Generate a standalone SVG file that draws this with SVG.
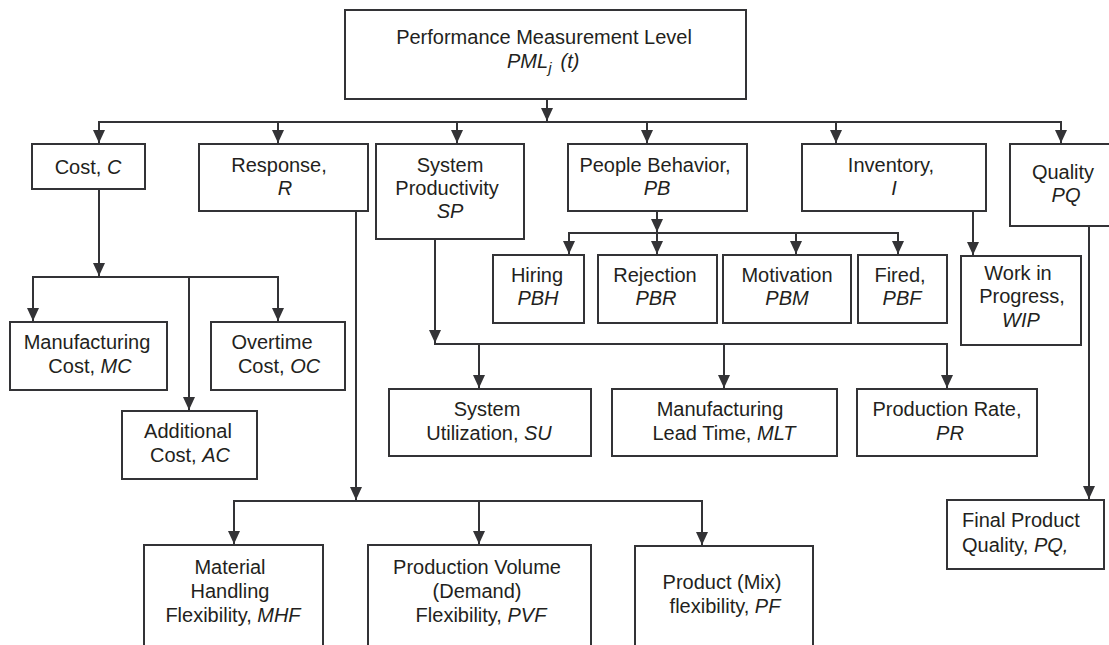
<svg xmlns="http://www.w3.org/2000/svg" width="1109" height="645" viewBox="0 0 1109 645">
  <style>
    .box { fill: #ffffff; stroke: #333336; stroke-width: 2; }
    .t { font-family: "Liberation Sans", Arial, Helvetica, sans-serif; font-size: 20px; fill: #231f20; text-anchor: middle; }
    .ts { font-family: "Liberation Sans", Arial, Helvetica, sans-serif; font-size: 20px; fill: #231f20; text-anchor: start; }
    .i { font-style: italic; }
    .wire { fill: none; stroke: #333336; stroke-width: 2; marker-end: url(#ah); }
    .bus { fill: none; stroke: #333336; stroke-width: 2; stroke-linecap: square; }
  </style>
  <defs>
    <marker id="ah" markerUnits="userSpaceOnUse" markerWidth="13" markerHeight="12" viewBox="0 0 13 12" refX="13" refY="6" orient="auto">
      <path d="M0,0 L13,6 L0,12 z" fill="#333336"/>
    </marker>
  </defs>

  <rect width="1109" height="645" fill="#ffffff"/>

  <!-- connectors -->
  <g id="connectors">
    <!-- root to first level -->
    <path class="wire" d="M547,99 V121"/>
    <path class="bus" d="M99,122 H1061"/>
    <path class="wire" d="M99,122 V143"/>
    <path class="wire" d="M278,122 V143"/>
    <path class="wire" d="M457,122 V143"/>
    <path class="wire" d="M647,122 V143"/>
    <path class="wire" d="M836,122 V143"/>
    <path class="wire" d="M1061,122 V143"/>

    <!-- cost branch -->
    <path class="wire" d="M99,189 V276"/>
    <path class="bus" d="M33,277 H278"/>
    <path class="wire" d="M33,277 V321"/>
    <path class="wire" d="M278,277 V321"/>
    <path class="wire" d="M189,277 V410"/>

    <!-- response branch -->
    <path class="wire" d="M356,211 V500"/>
    <path class="bus" d="M234,501 H702"/>
    <path class="wire" d="M234,501 V544"/>
    <path class="wire" d="M479,501 V544"/>
    <path class="wire" d="M702,501 V545"/>

    <!-- system productivity branch -->
    <path class="wire" d="M435,239 V343"/>
    <path class="bus" d="M435,344 H947"/>
    <path class="wire" d="M479,344 V388"/>
    <path class="wire" d="M724,344 V388"/>
    <path class="wire" d="M947,344 V388"/>

    <!-- people behavior branch -->
    <path class="wire" d="M657,211 V232"/>
    <path class="bus" d="M569,233 H898"/>
    <path class="wire" d="M569,233 V254"/>
    <path class="wire" d="M657,233 V254"/>
    <path class="wire" d="M796,233 V254"/>
    <path class="wire" d="M898,233 V254"/>

    <!-- inventory and quality -->
    <path class="wire" d="M973,211 V255"/>
    <path class="wire" d="M1089,226 V499"/>
  </g>

  <!-- root -->
  <g id="pml">
    <rect class="box" x="345" y="10" width="401" height="89"/>
    <text class="t" x="544" y="44">Performance Measurement Level</text>
    <text class="ts i" x="507" y="68">PML<tspan font-size="15" dy="5">j</tspan><tspan dx="9" dy="-5">(t)</tspan></text>
  </g>

  <!-- first level -->
  <g id="cost">
    <rect class="box" x="32" y="144" width="113" height="45"/>
    <text class="t" x="88" y="174">Cost, <tspan class="i">C</tspan></text>
  </g>
  <g id="response">
    <rect class="box" x="199" y="144" width="169" height="67"/>
    <text class="t" x="279" y="172">Response,</text>
    <text class="t i" x="285" y="195">R</text>
  </g>
  <g id="system-productivity">
    <rect class="box" x="376" y="144" width="148" height="95"/>
    <text class="t" x="450" y="172">System</text>
    <text class="t" x="447" y="195">Productivity</text>
    <text class="t i" x="450" y="218">SP</text>
  </g>
  <g id="people-behavior">
    <rect class="box" x="568" y="144" width="179" height="67"/>
    <text class="t" x="655" y="172">People Behavior,</text>
    <text class="t i" x="657" y="195">PB</text>
  </g>
  <g id="inventory">
    <rect class="box" x="802" y="144" width="184" height="67"/>
    <text class="t" x="891" y="172">Inventory,</text>
    <text class="t i" x="894" y="195">I</text>
  </g>
  <g id="quality">
    <rect class="box" x="1010" y="144" width="106" height="82"/>
    <text class="t" x="1063" y="179">Quality</text>
    <text class="t i" x="1066" y="202">PQ</text>
  </g>

  <!-- people behavior children -->
  <g id="hiring">
    <rect class="box" x="493" y="255" width="91" height="68"/>
    <text class="t" x="537" y="282">Hiring</text>
    <text class="t i" x="538" y="305">PBH</text>
  </g>
  <g id="rejection">
    <rect class="box" x="598" y="255" width="119" height="68"/>
    <text class="t" x="655" y="282">Rejection</text>
    <text class="t i" x="656" y="305">PBR</text>
  </g>
  <g id="motivation">
    <rect class="box" x="723" y="255" width="128" height="68"/>
    <text class="t" x="787" y="282">Motivation</text>
    <text class="t i" x="787" y="305">PBM</text>
  </g>
  <g id="fired">
    <rect class="box" x="858" y="255" width="89" height="68"/>
    <text class="t" x="900" y="282">Fired,</text>
    <text class="t i" x="902" y="305">PBF</text>
  </g>

  <!-- inventory child -->
  <g id="wip">
    <rect class="box" x="961" y="256" width="120" height="89"/>
    <text class="t" x="1018" y="280">Work in</text>
    <text class="t" x="1022" y="303">Progress,</text>
    <text class="t i" x="1021" y="327">WIP</text>
  </g>

  <!-- cost children -->
  <g id="manufacturing-cost">
    <rect class="box" x="10" y="322" width="157" height="68"/>
    <text class="t" x="87" y="349">Manufacturing</text>
    <text class="t" x="90" y="373">Cost, <tspan class="i">MC</tspan></text>
  </g>
  <g id="overtime-cost">
    <rect class="box" x="211" y="322" width="134" height="68"/>
    <text class="t" x="272" y="349">Overtime</text>
    <text class="t" x="279" y="373">Cost, <tspan class="i">OC</tspan></text>
  </g>
  <g id="additional-cost">
    <rect class="box" x="122" y="411" width="135" height="68"/>
    <text class="t" x="188" y="438">Additional</text>
    <text class="t" x="190" y="462">Cost, <tspan class="i">AC</tspan></text>
  </g>

  <!-- system productivity children -->
  <g id="system-utilization">
    <rect class="box" x="389" y="389" width="202" height="67"/>
    <text class="t" x="487" y="416">System</text>
    <text class="t" x="489" y="440">Utilization, <tspan class="i">SU</tspan></text>
  </g>
  <g id="lead-time">
    <rect class="box" x="612" y="389" width="225" height="67"/>
    <text class="t" x="720" y="416">Manufacturing</text>
    <text class="t" x="724" y="440">Lead Time, <tspan class="i">MLT</tspan></text>
  </g>
  <g id="production-rate">
    <rect class="box" x="857" y="389" width="180" height="67"/>
    <text class="t" x="947" y="416">Production Rate,</text>
    <text class="t i" x="950" y="440">PR</text>
  </g>

  <!-- response children -->
  <g id="mhf">
    <rect class="box" x="144" y="545" width="179" height="110"/>
    <text class="t" x="230" y="574">Material</text>
    <text class="t" x="230" y="598">Handling</text>
    <text class="t" x="233" y="622">Flexibility, <tspan class="i">MHF</tspan></text>
  </g>
  <g id="pvf">
    <rect class="box" x="368" y="545" width="223" height="110"/>
    <text class="t" x="477" y="574">Production Volume</text>
    <text class="t" x="477" y="598">(Demand)</text>
    <text class="t" x="481" y="622">Flexibility, <tspan class="i">PVF</tspan></text>
  </g>
  <g id="pf">
    <rect class="box" x="635" y="546" width="178" height="110"/>
    <text class="t" x="722" y="589">Product (Mix)</text>
    <text class="t" x="725" y="613">flexibility, <tspan class="i">PF</tspan></text>
  </g>

  <!-- quality child -->
  <g id="final-quality">
    <rect class="box" x="947" y="500" width="157" height="69"/>
    <text class="ts" x="962" y="527">Final Product</text>
    <text class="ts" x="962" y="552">Quality, <tspan class="i">PQ,</tspan></text>
  </g>
</svg>
